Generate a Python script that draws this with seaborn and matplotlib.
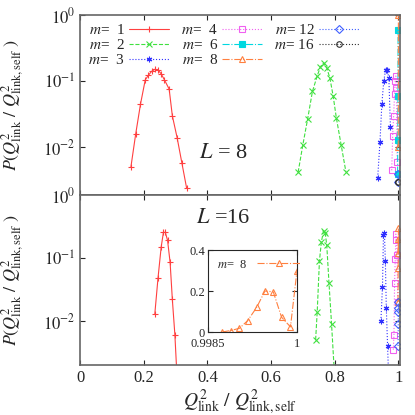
import numpy as np
import pandas as pd
import seaborn as sns
import matplotlib
matplotlib.use("Agg")
import matplotlib.pyplot as plt
from matplotlib.ticker import FixedLocator, NullLocator

sns.set_style("ticks")
plt.rcParams['font.family'] = ['Liberation Serif', 'DejaVu Serif']
plt.rcParams['mathtext.fontset'] = 'stix'

# L = 8 data
l8_m1_x = [0.16, 0.175, 0.19, 0.205, 0.215, 0.225, 0.235, 0.245, 0.255, 0.265, 0.28, 0.29, 0.305, 0.32, 0.335]
l8_m1_y = [0.0051, 0.016, 0.045, 0.105, 0.123, 0.141, 0.151, 0.148, 0.129, 0.105, 0.076, 0.030, 0.014, 0.0058, 0.0024]
l8_m2_x = [0.685, 0.70, 0.715, 0.73, 0.745, 0.755, 0.765, 0.775, 0.785, 0.795, 0.805, 0.82, 0.835]
l8_m2_y = [0.0042, 0.011, 0.027, 0.07, 0.12, 0.165, 0.19, 0.16, 0.11, 0.06, 0.028, 0.011, 0.0043]
l8_m3_x = [0.935, 0.942, 0.948, 0.954, 0.960, 0.965, 0.970, 0.975]
l8_m3_y = [0.0035, 0.012, 0.045, 0.10, 0.15, 0.15, 0.11, 0.02]
l8_m4_x = [0.979, 0.982, 0.985, 0.988, 0.990, 0.992, 0.994, 0.996]
l8_m4_y = [0.0045, 0.015, 0.03, 0.065, 0.10, 0.12, 0.08, 0.006]
l8_m6_x = [0.9975, 0.9980, 0.9985, 0.999]
l8_m6_y = [0.004, 0.013, 0.06, 0.6]
l8_m8_x = [0.9995, 1.0]
l8_m8_y = [0.01, 1.0]

# L = 16 data
l16_m1_x = [0.235, 0.245, 0.255, 0.262, 0.268, 0.275, 0.283, 0.29, 0.298, 0.305]
l16_m1_y = [0.013, 0.048, 0.15, 0.255, 0.255, 0.19, 0.085, 0.022, 0.006, 0.0012]
l16_m2_x = [0.74, 0.745, 0.752, 0.758, 0.765, 0.770, 0.775, 0.782, 0.79, 0.80]
l16_m2_y = [0.005, 0.014, 0.09, 0.18, 0.27, 0.25, 0.16, 0.04, 0.009, 0.0012]
l16_m3_x = [0.945, 0.950, 0.953, 0.956, 0.959, 0.962, 0.966, 0.97]
l16_m3_y = [0.01, 0.035, 0.23, 0.25, 0.09, 0.016, 0.004, 0.001]
l16_m4_x = [0.984, 0.986, 0.988, 0.990, 0.992, 0.994, 0.996, 0.998]
l16_m4_y = [0.0035, 0.006, 0.04, 0.095, 0.24, 0.19, 0.11, 0.02]
l16_m8_x = [0.9988, 0.9993, 0.9996, 0.9999, 1.0]
l16_m8_y = [0.02, 0.07, 0.2, 0.12, 0.3]
l16_m12_x = [0.999, 0.9995, 1.0, 1.0, 1.0]
l16_m12_y = [0.004, 0.009, 0.014, 0.016, 0.02]

# inset m = 8, L = 16
inset_x = [0.99874, 0.99888, 0.99903, 0.99917, 0.99932, 0.99946, 0.9996, 0.99974, 0.99989, 1.0]
inset_y = [0.0, 0.007, 0.018, 0.056, 0.12, 0.2, 0.196, 0.072, 0.025, 0.3]

styles = {
    1: dict(color='#ff4040', marker='+', ls='-'),
    2: dict(color='#40e040', marker='x', ls='--'),
    3: dict(color='#3030ff', marker=(6, 2, 0), ls=':'),
    4: dict(color='#f060f0', marker='s', ls=':', mfc='none'),
    6: dict(color='#00d8e0', marker='s', ls='-.'),
    8: dict(color='#ff8040', marker='^', ls='-.', mfc='none'),
    12: dict(color='#4060ff', marker='D', ls=':', mfc='none'),
    16: dict(color='#303030', marker='o', ls=':', mfc='none'),
}


def draw(ax, m, x, y, label=None):
    st = styles[m]
    sns.lineplot(x=x, y=y, ax=ax, color=st['color'], linestyle=st['ls'], lw=0.8,
                 marker=st['marker'], markersize=4, mew=0.8,
                 mfc=st.get('mfc', st['color']), mec=st['color'], label=label,
                 sort=False, estimator=None)


fig = plt.figure(figsize=(4.15, 4.15), dpi=100)
ax1 = fig.add_axes([80 / 415, 220 / 415, 320 / 415, 180 / 415])
ax2 = fig.add_axes([80 / 415, 50 / 415, 320 / 415, 170 / 415])

draw(ax1, 1, l8_m1_x, l8_m1_y, r'$m$=  1')
draw(ax1, 2, l8_m2_x, l8_m2_y, r'$m$=  2')
draw(ax1, 3, l8_m3_x, l8_m3_y, r'$m$=  3')
draw(ax1, 4, l8_m4_x, l8_m4_y, r'$m$=  4')
draw(ax1, 6, l8_m6_x, l8_m6_y, r'$m$=  6')
draw(ax1, 8, l8_m8_x, l8_m8_y, r'$m$=  8')
draw(ax1, 12, [1.0, 1.0], [0.003, 0.004], r'$m$= 12')
draw(ax1, 16, [1.0, 1.0], [0.003, 0.003], r'$m$= 16')

draw(ax2, 1, l16_m1_x, l16_m1_y)
draw(ax2, 2, l16_m2_x, l16_m2_y)
draw(ax2, 3, l16_m3_x, l16_m3_y)
draw(ax2, 4, l16_m4_x, l16_m4_y)
draw(ax2, 8, l16_m8_x, l16_m8_y)
draw(ax2, 12, l16_m12_x, l16_m12_y)

for ax in (ax1, ax2):
    ax.set_yscale('log')
    ax.set_xlim(0, 1.005)
    ax.set_xticks([0, 0.2, 0.4, 0.6, 0.8, 1])
    ax.yaxis.set_minor_locator(NullLocator())
    ax.tick_params(direction='in', top=True, right=True, labelsize=12)
    ax.set_ylabel(r'$P(Q^2_{\rm link}\ /\ Q^2_{\rm link,self}\ )$', fontsize=13)
    ax.yaxis.set_label_coords(-0.17, 0.5)
    for s in ax.spines.values():
        s.set_color('#666666')
        s.set_linewidth(1.2)

ax1.set_ylim(10 ** -2.72, 1)
ax1.yaxis.set_major_locator(FixedLocator([10 ** -2.72, 0.01, 0.1, 1]))
ax1.set_yticklabels([r'$10^{0}$', r'$10^{-2}$', r'$10^{-1}$', r'$10^{0}$'])
ax1.set_xticklabels([])
ax1.text(0.45, 0.007, r'$L$ = 8', fontsize=16, ha='center')
ax1.legend(ncol=3, loc='upper left', frameon=False, fontsize=11, handlelength=2.6,
           markerfirst=False, columnspacing=0.8, labelspacing=0.05,
           borderaxespad=0.15, handletextpad=0.3)

ax2.set_ylim(10 ** -2.7, 1)
ax2.yaxis.set_major_locator(FixedLocator([0.01, 0.1]))
ax2.set_yticklabels([r'$10^{-2}$', r'$10^{-1}$'])
ax2.set_xticklabels(['0', '0.2', '0.4', '0.6', '0.8', '1'])
ax2.set_xlabel(r'$Q^2_{\rm link}\ /\ Q^2_{\rm link,self}$', fontsize=14, labelpad=1)
ax2.text(0.45, 0.42, r'$L$ =16', fontsize=16, ha='center', va='center')

axi = fig.add_axes([208 / 415, 83 / 415, 89 / 415, 82 / 415])
draw(axi, 8, inset_x, inset_y, r'$m$=  8')
axi.set_xlim(0.9985, 1.0)
axi.set_ylim(0, 0.4)
axi.set_xticks([0.9985, 1.0])
axi.set_xticklabels(['0.9985', '1'])
axi.set_yticks([0, 0.2, 0.4])
axi.set_yticklabels(['0', '0.2', '0.4'])
axi.tick_params(direction='in', top=True, right=True, labelsize=9, pad=2)
axi.tick_params(axis='x', pad=4)
axi.legend(loc='upper left', frameon=False, fontsize=9, markerfirst=False,
           handlelength=3.5, borderaxespad=0.3)

fig.savefig('out.png', dpi=100)
plt.close(fig)
